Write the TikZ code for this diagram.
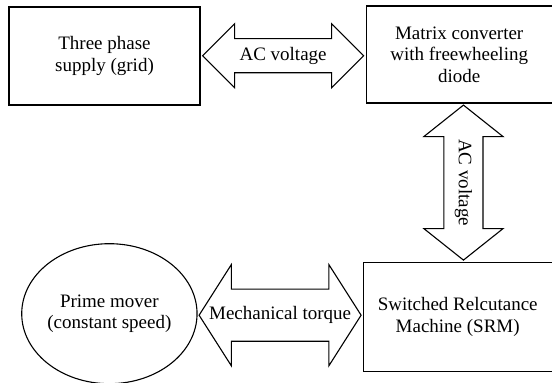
\documentclass[tikz,border=0pt]{standalone}
\usepackage{fontspec}
\setmainfont{Liberation Serif}
\usetikzlibrary{positioning,calc,shapes.geometric,shapes.arrows}
\tikzset{  block/.style={draw,line width=1.2pt,rectangle,align=center,inner sep=0pt},
  bigarrow/.style={draw,line width=1.1pt,double arrow,inner sep=0pt,outer sep=0pt,minimum width=0pt,text depth=0pt} }

\begin{document}
\begin{tikzpicture}[font=\fontsize{19}{21.5}\selectfont]
   \useasboundingbox (0,0) rectangle (552pt,383pt);
   \node[block,minimum width=191pt,minimum height=98pt] (grid) at (104.5pt,327pt) {Three phase\\supply (grid)};
   \node[block,minimum width=186pt,minimum height=97pt,right=165pt of grid,yshift=1.5pt] (conv) {Matrix converter\\with freewheeling\\diode};
   \node[block,minimum width=189pt,minimum height=109pt,anchor=north east] (srm) at ($(conv.south east)+(0,-158pt)$) {Switched Relcutance\\Machine (SRM)};
   \node[draw,ellipse,line width=1.1pt,align=center,inner sep=0pt,minimum width=174pt,minimum height=140pt,left=165pt of srm,yshift=3pt] (mover) {Prime mover\\(constant speed)};
   \node[bigarrow,text height=33pt,double arrow head extend=15pt,double arrow tip angle=90,minimum height=161pt] (acgrid) at ($(grid.east)!0.5!(conv.west)+(0,-0.5pt)$) {};
   \node[bigarrow,rotate=90,text height=38pt,double arrow head extend=20pt,double arrow tip angle=103,minimum height=155pt] (acsrm) at ($(conv.south)!0.5!(srm.north)+(5pt,0)$) {};
   \node[bigarrow,text height=51pt,double arrow head extend=24.5pt,double arrow tip angle=115,minimum height=162pt] (torque) at ($(mover.east)!0.5!(srm.west)$) {};
   \node at (acgrid) {AC voltage};
   \node[rotate=-90] at (acsrm) {AC voltage};
   \node at (torque) {Mechanical torque};
  \end{tikzpicture}
\end{document}
